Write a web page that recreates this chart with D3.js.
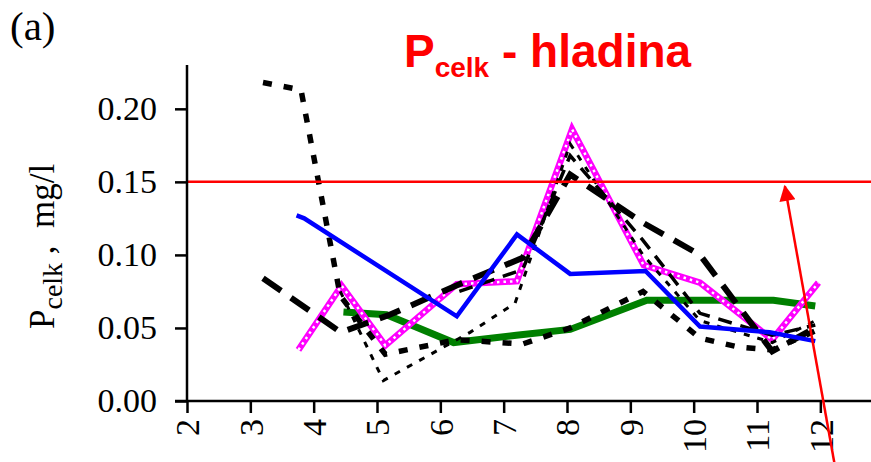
<!DOCTYPE html>
<html>
<head>
<meta charset="utf-8">
<script src="https://cdn.jsdelivr.net/npm/d3@7"></script>
<style>
  body { margin: 0; background: #fff; }
  svg { display: block; }
</style>
</head>
<body>
<div id="chart"></div>
<script>
var width = 871;
var height = 462;

// month positions (x) and total phosphorus values (mg/l)
var blueX = [3.73, 3.85, 6.26, 7.21, 8.05, 9.24, 10.1, 11.2, 11.92];
var blueY = [0.127, 0.125, 0.058, 0.114, 0.087, 0.089, 0.051, 0.047, 0.041];

var greenX = [4.47, 5.15, 6.21, 7.2, 8.05, 9.26, 10.1, 11.26, 11.92];
var greenY = [0.061, 0.059, 0.040, 0.045, 0.049, 0.069, 0.069, 0.069, 0.065];

var pinkX = [3.76, 4.44, 5.13, 6.26, 7.21, 8.08, 9.21, 10.1, 11.24, 11.97];
var pinkY = [0.035, 0.079, 0.038, 0.080, 0.082, 0.186, 0.093, 0.081, 0.042, 0.081];

var black1X = [3.2, 3.8, 4.42, 5.13, 6.26, 7.3, 8.05, 9.2, 10.1, 10.7, 11.24, 11.92];
var black1Y = [0.218, 0.213, 0.072, 0.032, 0.042, 0.039, 0.050, 0.075, 0.043, 0.037, 0.035, 0.048];

var black2X = [3.2, 4.43, 5.2, 6.3, 7.3, 8.05, 9.2, 10.1, 11.24, 11.92];
var black2Y = [0.084, 0.047, 0.059, 0.080, 0.098, 0.155, 0.122, 0.100, 0.034, 0.050];

var black3X = [4.42, 5.1, 6.47, 7.18, 8.05, 9.2, 10.1, 11.24, 11.92];
var black3Y = [0.075, 0.014, 0.047, 0.067, 0.176, 0.100, 0.055, 0.040, 0.055];

var black4X = [6.3, 7.3, 8.05, 9.2, 10.1, 11.24, 11.92];
var black4Y = [0.075, 0.090, 0.168, 0.110, 0.060, 0.045, 0.052];

var limitValue = 0.15;
var arrowFrom = [12.22, -0.042];
var arrowTo = [11.44, 0.147];

var xTicks = [2, 3, 4, 5, 6, 7, 8, 9, 10, 11, 12];
var yTicks = [0, 0.05, 0.10, 0.15, 0.20];

function zip(xs, ys) {
  return xs.map(function(x, i) { return [x, ys[i]]; });
}

var svg = d3.select("#chart")
  .append("svg")
  .attr("width", width)
  .attr("height", height);

var x = d3.scaleLinear().domain([2, 12.8]).range([187, 871]);
var y = d3.scaleLinear().domain([0, 0.23]).range([401, 65]);

var line = d3.line()
  .x(function(d) { return x(d[0]); })
  .y(function(d) { return y(d[1]); });

// series, bottom to top
var series = [
  { data: zip(greenX, greenY), color: "#008000", w: 7, dash: null },
  { data: zip(pinkX, pinkY), color: "#ff00ff", w: 6.5, dash: null, dots: true },
  { data: zip(black3X, black3Y), color: "#000", w: 3, dash: "6,8" },
  { data: zip(black4X, black4Y), color: "#000", w: 3.5, dash: "14,9" },
  { data: zip(black2X, black2Y), color: "#000", w: 6, dash: "22,12" },
  { data: zip(black1X, black1Y), color: "#000", w: 5.5, dash: "9,12" },
  { data: zip(blueX, blueY), color: "#0000ff", w: 4.5, dash: null }
];

series.forEach(function(s) {
  svg.append("path")
    .attr("d", line(s.data))
    .attr("fill", "none")
    .attr("stroke", s.color)
    .attr("stroke-width", s.w)
    .attr("stroke-linejoin", "miter")
    .attr("stroke-dasharray", s.dash);
  if (s.dots) {
    svg.append("path")
      .attr("d", line(s.data))
      .attr("fill", "none")
      .attr("stroke", "#fff")
      .attr("stroke-width", 2.5)
      .attr("stroke-dasharray", "2.5,4");
  }
});

// limit line
svg.append("line")
  .attr("x1", x(2)).attr("x2", width)
  .attr("y1", y(limitValue)).attr("y2", y(limitValue))
  .attr("stroke", "#ff0000")
  .attr("stroke-width", 2.5);

// axes
var yAxis = d3.axisLeft(y).tickValues(yTicks).tickSize(12).tickFormat(d3.format(".2f"));
var gy = svg.append("g").attr("transform", "translate(187,0)").call(yAxis);
gy.select(".domain").attr("d", "M0," + 65 + "V" + 401);

var xAxis = d3.axisBottom(x).tickValues(xTicks).tickSize(12).tickFormat(d3.format("d"));
var gx = svg.append("g").attr("transform", "translate(0,401)").call(xAxis);
gx.select(".domain").attr("d", "M175,0H" + width);

svg.selectAll(".domain, .tick line")
  .attr("stroke", "#000")
  .attr("stroke-width", 2.5);

gy.selectAll(".tick text")
  .attr("x", -30)
  .attr("font-family", "Liberation Serif, Times New Roman, serif")
  .attr("font-size", 34)
  .attr("fill", "#000");

gx.selectAll(".tick text")
  .attr("transform", "rotate(-90)")
  .attr("x", -18)
  .attr("y", 0)
  .attr("dy", "0.35em")
  .attr("text-anchor", "end")
  .attr("font-family", "Liberation Serif, Times New Roman, serif")
  .attr("font-size", 34)
  .attr("fill", "#000");

// red arrow
svg.append("defs").append("marker")
  .attr("id", "head")
  .attr("viewBox", "0 0 10 10")
  .attr("refX", 9).attr("refY", 5)
  .attr("markerWidth", 8).attr("markerHeight", 6.5)
  .attr("markerUnits", "strokeWidth")
  .attr("orient", "auto")
  .append("path")
  .attr("d", "M0,0L10,5L0,10z")
  .attr("fill", "#ff0000");

svg.append("line")
  .attr("x1", x(arrowFrom[0])).attr("y1", y(arrowFrom[1]))
  .attr("x2", x(arrowTo[0])).attr("y2", y(arrowTo[1]))
  .attr("stroke", "#ff0000")
  .attr("stroke-width", 2.5)
  .attr("marker-end", "url(#head)");

// title
var title = svg.append("text")
  .attr("x", 404).attr("y", 67)
  .attr("font-family", "Liberation Sans, Arial, sans-serif")
  .attr("font-weight", "bold")
  .attr("font-size", 46)
  .attr("fill", "#ff0000");
title.append("tspan").text("P");
title.append("tspan").attr("font-size", 28).attr("dy", 10).text("celk");
title.append("tspan").attr("dy", -10).text(" - hladina");

// y label
var yl = svg.append("text")
  .attr("transform", "translate(54,329) rotate(-90)")
  .attr("font-family", "Liberation Serif, Times New Roman, serif")
  .attr("font-size", 35)
  .attr("fill", "#000");
yl.append("tspan").text("P");
yl.append("tspan").attr("font-size", 28).attr("dy", 8).text("celk");
yl.append("tspan").attr("dy", -8).attr("xml:space", "preserve").text(" ,  mg/l");

// panel letter
svg.append("text")
  .attr("x", 10).attr("y", 40)
  .attr("font-family", "Liberation Serif, Times New Roman, serif")
  .attr("font-size", 41)
  .attr("fill", "#000")
  .text("(a)");
</script>
</body>
</html>
